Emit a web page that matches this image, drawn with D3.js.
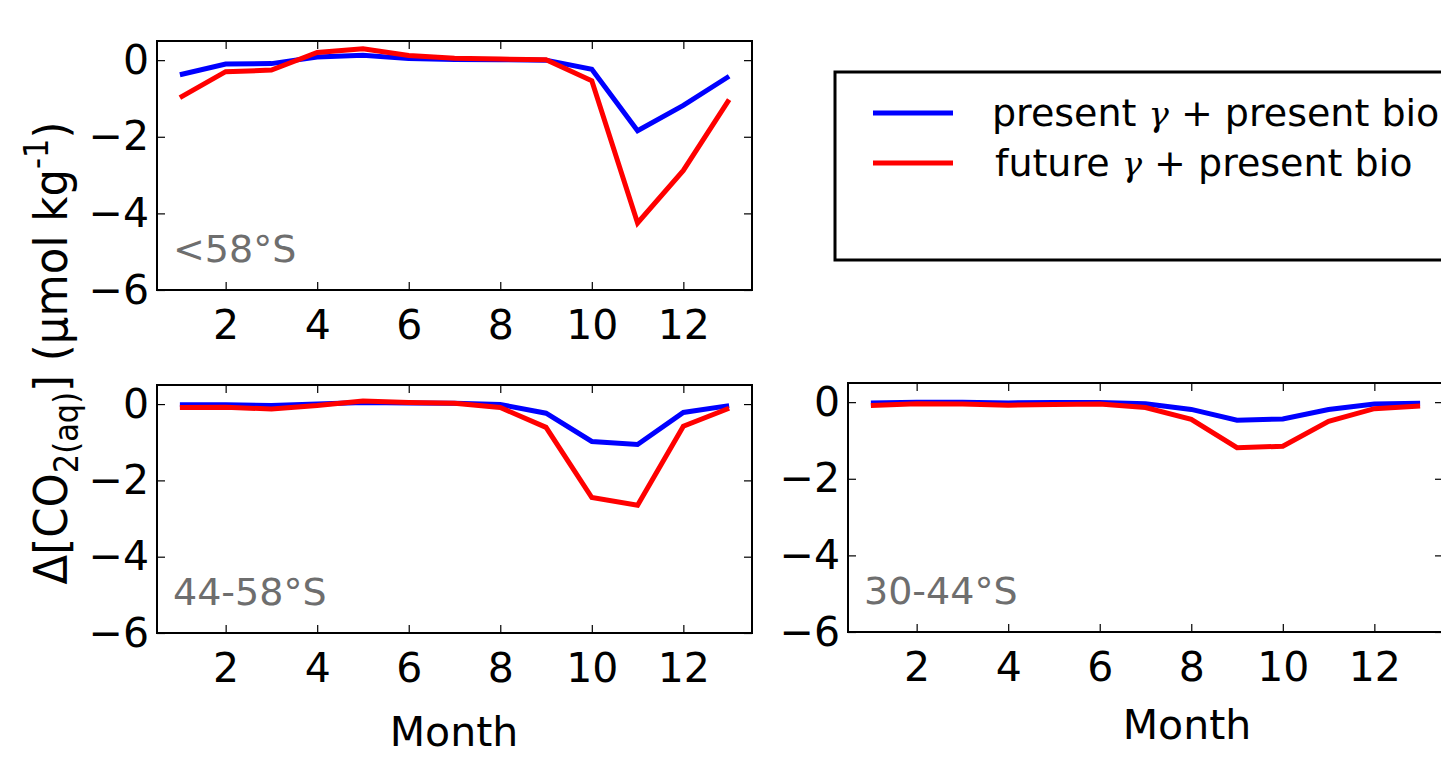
<!DOCTYPE html>
<html>
<head>
<meta charset="utf-8">
<script src="https://cdn.jsdelivr.net/npm/d3@7"></script>
<style>
body { margin: 0; background: #fff; }
svg text { font-family: "DejaVu Sans", sans-serif; }
</style>
</head>
<body>
<svg id="chart" width="1441" height="757"></svg>
<script>
// months on x
const months = [1,2,3,4,5,6,7,8,9,10,11,12,13];
const xTicks = [2,4,6,8,10,12];
const yTicks = [0,-2,-4,-6];

// <58°S
const south58_present = [-0.38,-0.10,-0.09,0.08,0.13,0.04,0.02,0.01,0.0,-0.24,-1.84,-1.18,-0.42];
const south58_future  = [-0.98,-0.30,-0.26,0.20,0.30,0.12,0.05,0.03,0.01,-0.54,-4.25,-2.88,-1.03];
// 44-58°S
const mid_present = [-0.02,-0.02,-0.04,0.0,0.04,0.03,0.02,-0.01,-0.24,-0.98,-1.06,-0.22,-0.04];
const mid_future  = [-0.09,-0.08,-0.13,-0.04,0.08,0.04,0.02,-0.09,-0.61,-2.45,-2.65,-0.58,-0.11];
// 30-44°S
const north_present = [-0.02,0.0,0.0,-0.02,-0.01,-0.01,-0.04,-0.19,-0.47,-0.44,-0.19,-0.05,-0.03];
const north_future  = [-0.09,-0.04,-0.05,-0.08,-0.06,-0.05,-0.14,-0.45,-1.19,-1.15,-0.50,-0.17,-0.10];

const seriesColors = ["#0000ff", "#ff0000"];

const svg = d3.select("#chart");
svg.append("rect").attr("width", 1441).attr("height", 757).attr("fill", "#fff");

const panels = [
	{label: "<58°S", present: south58_present, future: south58_future,
	 x0: 157, x1: 752, y0: 41, y1: 290, month: null},
	{label: "44-58°S", present: mid_present, future: mid_future,
	 x0: 157, x1: 752, y0: 385, y1: 633, month: 746, monthX: 454},
	{label: "30-44°S", present: north_present, future: north_future,
	 x0: 848, x1: 1443, y0: 383, y1: 632, month: 739, monthX: 1187}
];

const drawPanel = (p) => {
	const x = d3.scaleLinear().domain([0.5, 13.5]).range([p.x0, p.x1]);
	const y = d3.scaleLinear().domain([-6, 0.5]).range([p.y1, p.y0]);
	const g = svg.append("g");
	const fmt = (d) => d < 0 ? "\u2212" + Math.abs(d) : String(d);

	// lines
	const line = d3.line().x((d, i) => x(months[i])).y(d => y(d));
	[p.present, p.future].forEach((vals, k) => {
		g.append("path")
			.attr("d", line(vals))
			.attr("fill", "none")
			.attr("stroke", seriesColors[k])
			.attr("stroke-width", 5)
			.attr("stroke-linejoin", "miter");
	});

	// inward ticks, all four sides
	const bottom = g.append("g").attr("transform", `translate(0,${p.y1})`)
		.call(d3.axisBottom(x).tickValues(xTicks).tickSize(-8).tickPadding(0).tickFormat(fmt));
	const top = g.append("g").attr("transform", `translate(0,${p.y0})`)
		.call(d3.axisTop(x).tickValues(xTicks).tickSize(-8).tickFormat(""));
	const left = g.append("g").attr("transform", `translate(${p.x0},0)`)
		.call(d3.axisLeft(y).tickValues(yTicks).tickSize(-8).tickPadding(8).tickFormat(fmt));
	const right = g.append("g").attr("transform", `translate(${p.x1},0)`)
		.call(d3.axisRight(y).tickValues(yTicks).tickSize(-8).tickFormat(""));
	[bottom, top, left, right].forEach(a => {
		a.select(".domain").remove();
		a.selectAll("line").attr("stroke", "#000").attr("stroke-width", 1.2);
		a.selectAll("text").attr("font-size", 41).attr("fill", "#000")
			.style("font-family", "'DejaVu Sans', sans-serif");
	});
	bottom.selectAll("text").attr("y", 49).attr("dy", null);

	// frame
	g.append("rect")
		.attr("x", p.x0).attr("y", p.y0)
		.attr("width", p.x1 - p.x0).attr("height", p.y1 - p.y0)
		.attr("fill", "none").attr("stroke", "#000").attr("stroke-width", 2);

	g.append("text")
		.attr("x", p.x0 + 16).attr("y", p.y1 - 28)
		.attr("font-size", 38).attr("fill", "#6e6e6e")
		.text(p.label);

	if (p.month) {
		g.append("text")
			.attr("x", p.monthX).attr("y", p.month)
			.attr("text-anchor", "middle").attr("font-size", 41)
			.text("Month");
	}
};

panels.forEach(drawPanel);

// shared y label
const yl = svg.append("text")
	.attr("text-anchor", "middle")
	.attr("font-size", 47);
yl.append("tspan").text("\u0394[CO");
yl.append("tspan").attr("font-size", 33).attr("dy", 11).text("2(aq)");
yl.append("tspan").attr("dy", -11).text("] (\u03bcmol kg");
yl.append("tspan").attr("font-size", 33).attr("dy", -19).text("-1");
yl.append("tspan").attr("dy", 19).text(")");
// squeeze along the text direction so it runs from y≈122 to y≈585
const ylLen = yl.node().getComputedTextLength();
yl.attr("transform", `translate(67,353) rotate(-90) scale(${463 / ylLen},1)`);

// legend
const leg = svg.append("g");
leg.append("rect")
	.attr("x", 835).attr("y", 72).attr("width", 640).attr("height", 188)
	.attr("fill", "#fff").attr("stroke", "#000").attr("stroke-width", 3);
const legendLabels = ["present", "future"];
legendLabels.forEach((name, i) => {
	const ly = 113 + i * 50;
	leg.append("line")
		.attr("x1", 873).attr("x2", 953).attr("y1", ly).attr("y2", ly)
		.attr("stroke", seriesColors[i]).attr("stroke-width", 5);
	const t = leg.append("text")
		.attr("x", 992 + i * 3).attr("y", ly + 13)
		.attr("font-size", 38);
	t.append("tspan").text(name + " ");
	t.append("tspan").style("font-family", "'DejaVu Serif', serif").attr("font-style", "italic")
		.attr("font-size", 34).text("\u03b3");
	t.append("tspan").text(" + present bio");
});
</script>
</body>
</html>
